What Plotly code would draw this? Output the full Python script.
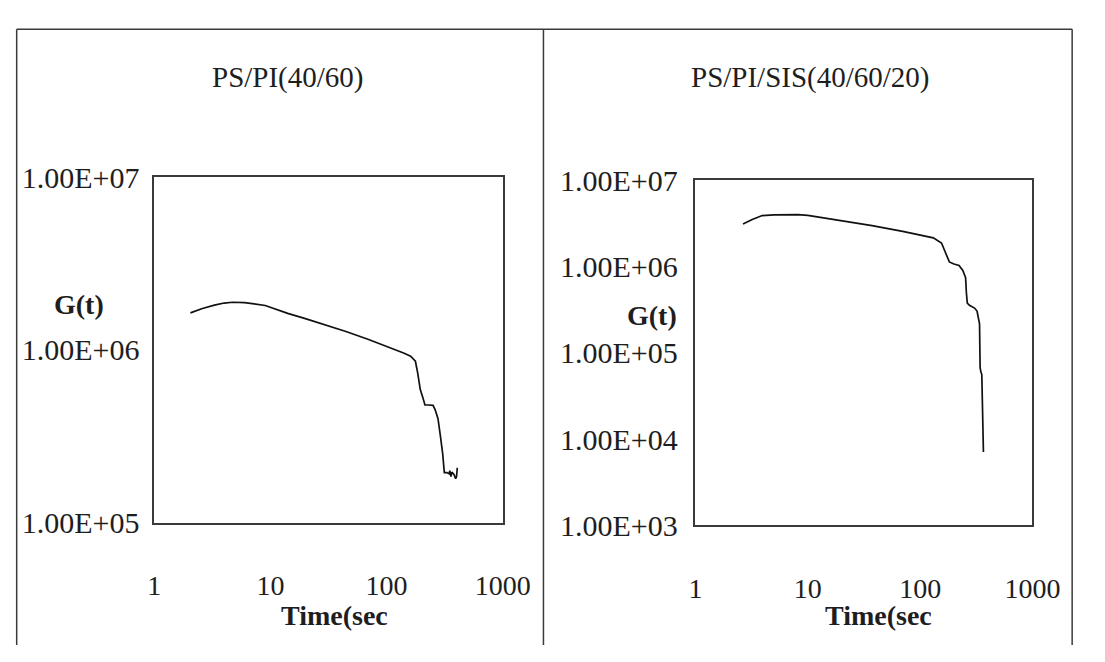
import plotly.graph_objects as go

# ---- data ----
left_t = [2.05, 2.6, 3.3, 4.0, 4.73, 6.0, 9.03, 14.1, 20, 30, 44.7, 70, 109, 140, 161, 177,
          185, 195, 205, 214, 230, 251, 262, 277, 290, 304, 314, 330, 345, 350, 358, 365,
          380, 393, 400, 406]
left_G = [1.64e6, 1.74e6, 1.82e6, 1.87e6, 1.89e6, 1.88e6, 1.81e6, 1.63e6, 1.52e6, 1.40e6,
          1.28e6, 1.15e6, 1.03e6, 9.6e5, 9.2e5, 8.6e5, 7.4e5, 5.9e5, 5.3e5, 4.8e5, 4.8e5,
          4.78e5, 4.5e5, 4.0e5, 3.2e5, 2.5e5, 1.95e5, 1.95e5, 1.92e5, 2.0e5, 1.85e5, 1.96e5,
          1.9e5, 1.8e5, 1.85e5, 2.08e5]

right_t = [2.65, 3.2, 3.93, 5, 8.15, 10, 13.8, 20, 37.3, 70, 131, 155, 170, 182, 200, 222,
           240, 254, 258, 263, 275, 290, 305, 321, 330, 338, 340, 342, 348, 354, 360, 366]
right_G = [3.1e6, 3.5e6, 3.89e6, 3.97e6, 3.99e6, 3.9e6, 3.66e6, 3.4e6, 2.97e6, 2.55e6,
           2.15e6, 1.87e6, 1.4e6, 1.13e6, 1.07e6, 1.03e6, 9e5, 7.4e5, 5e5, 3.76e5, 3.55e5,
           3.45e5, 3.3e5, 3.05e5, 2.6e5, 2.17e5, 1.2e5, 6.67e4, 6.0e4, 5.6e4, 2.0e4, 7.1e3]

x_tickvals = [1, 10, 100, 1000]
x_ticktext = ["1", "10", "100", "1000"]
left_yvals = [1e5, 1e6, 1e7]
left_ytext = ["1.00E+05", "1.00E+06", "1.00E+07"]
right_yvals = [1e3, 1e4, 1e5, 1e6, 1e7]
right_ytext = ["1.00E+03", "1.00E+04", "1.00E+05", "1.00E+06", "1.00E+07"]

titles = ["PS/PI(40/60)", "PS/PI/SIS(40/60/20)"]
ylabel = "G(t)"
xlabel = "Time(sec"

W, H = 1105, 662
SERIF = "Liberation Serif, Times New Roman, serif"
LINE = "#3a3a3a"
TXT = "#1e1e1e"

def px(x):
    return x / W

def py(y):
    return 1 - y / H

fig = go.Figure()
fig.add_trace(go.Scatter(x=left_t, y=left_G, mode="lines", line=dict(color="#111", width=1.7),
                         xaxis="x", yaxis="y", showlegend=False))
fig.add_trace(go.Scatter(x=right_t, y=right_G, mode="lines", line=dict(color="#111", width=1.7),
                         xaxis="x2", yaxis="y2", showlegend=False))

base = dict(showgrid=False, zeroline=False, showline=True, linecolor=LINE, linewidth=1.5,
            mirror=True, ticks="")
xfont = dict(family=SERIF, size=28, color=TXT)
yfont = dict(family=SERIF, size=30, color=TXT)

fig.update_layout(
    width=W, height=H,
    margin=dict(l=0, r=0, t=0, b=0),
    paper_bgcolor="white", plot_bgcolor="white",
    xaxis=dict(type="log", domain=[px(152), px(512)], range=[0, 3], anchor="y", tickfont=xfont,
               tickvals=x_tickvals, ticktext=x_ticktext, ticklabelstandoff=37, **base),
    yaxis=dict(type="log", domain=[py(533), py(169)], range=[5, 7], anchor="x", tickfont=yfont,
               tickvals=left_yvals, ticktext=left_ytext, ticklabelstandoff=7, **base),
    xaxis2=dict(type="log", domain=[px(711), px(1059)], range=[0, 3], anchor="y2", tickfont=xfont,
                tickvals=x_tickvals, ticktext=x_ticktext, ticklabelstandoff=37, **base),
    yaxis2=dict(type="log", domain=[py(536), py(172)], range=[3, 7], anchor="x2", tickfont=yfont,
                tickvals=right_yvals, ticktext=right_ytext, ticklabelstandoff=10, **base),
)

annots = []
for cx, txt in [(290, titles[0]), (830, titles[1])]:
    annots.append(dict(x=px(cx), y=py(64), xref="paper", yref="paper", text=txt, showarrow=False,
                       font=dict(family=SERIF, size=29, color=TXT), xanchor="center", yanchor="middle"))
for cx, cy in [(74, 303), (666, 315)]:
    annots.append(dict(x=px(cx), y=py(cy), xref="paper", yref="paper", text="<b>" + ylabel + "</b>",
                       showarrow=False, font=dict(family=SERIF, size=28, color=TXT),
                       xanchor="center", yanchor="middle"))
for cx in [338, 900]:
    annots.append(dict(x=px(cx), y=py(631), xref="paper", yref="paper", text="<b>" + xlabel + "</b>",
                       showarrow=False, font=dict(family=SERIF, size=28, color=TXT),
                       xanchor="center", yanchor="middle"))
fig.update_layout(annotations=annots)

# outer frame of the figure page
shapes = []
for x0, y0, x1, y1 in [(10, 13, 1100, 13), (10, 13, 10, 662), (554, 13, 554, 662), (1100, 13, 1100, 662)]:
    shapes.append(dict(type="line", xref="paper", yref="paper", x0=px(x0), y0=py(y0), x1=px(x1), y1=py(y1),
                       line=dict(color=LINE, width=1.5)))
fig.update_layout(shapes=shapes)

fig.write_html("out.html")
